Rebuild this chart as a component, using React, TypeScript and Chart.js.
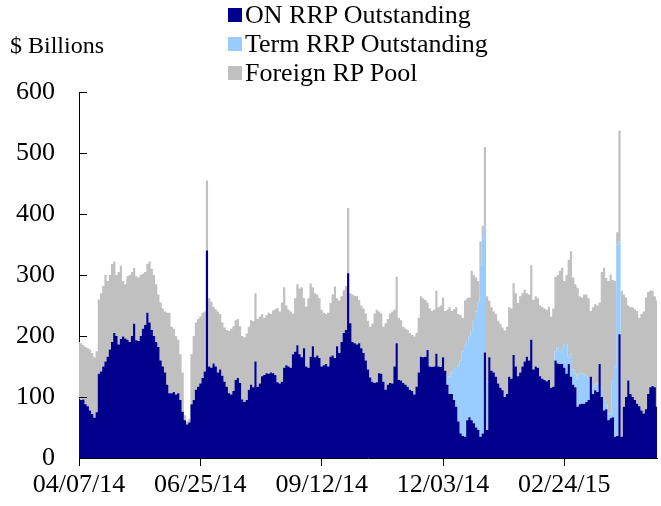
import { useEffect, useRef } from "react";
import { Chart, registerables } from "chart.js";

Chart.register(...registerables);

// ---------- data (business days, 04/07/14 onward) ----------
const SERIES_NAMES = ["ON RRP Outstanding", "Term RRP Outstanding", "Foreign RP Pool"];
const X_TICK_LABELS = ["04/07/14", "06/25/14", "09/12/14", "12/03/14", "02/24/15"];
const TICK_STEP = 55;
const Y_TICKS = [0, 100, 200, 300, 400, 500, 600];

const ON_RRP = [
  97, 95, 96, 88, 85, 78, 72, 66, 75, 138,
  142, 150, 158, 166, 178, 190, 205, 200, 186, 195,
  199, 196, 194, 190, 200, 220, 193, 192, 200, 212,
  218, 238, 222, 210, 200, 190, 182, 160, 150, 140,
  120, 106, 106, 108, 104, 106, 95, 76, 62, 55,
  58, 88, 95, 112, 117, 122, 131, 142, 340, 150,
  148, 155, 150, 140, 145, 135, 125, 117, 106, 104,
  110, 128, 131, 123, 96, 92, 95, 112, 120, 116,
  158, 117, 122, 134, 136, 139, 138, 140, 139, 136,
  124, 122, 125, 148, 152, 150, 148, 170, 174, 185,
  170, 165, 180, 150, 148, 166, 183, 165, 168, 164,
  150, 152, 154, 150, 166, 168, 164, 183, 172, 190,
  205, 210, 303, 221, 190, 188, 186, 188, 180, 172,
  160, 145, 132, 125, 123, 124, 139, 138, 125, 112,
  120, 123, 122, 150, 188, 128, 127, 123, 120, 117,
  112, 110, 104, 117, 140, 166, 165, 166, 177, 150,
  149, 150, 171, 150, 149, 165, 143, 120, 105, 105,
  95, 84, 60, 40, 36, 35, 62, 67, 62, 57,
  50, 46, 35, 40, 173, 46, 165, 143, 140, 133,
  122, 115, 111, 100, 105, 133, 130, 169, 150, 134,
  140, 150, 158, 166, 160, 194, 145, 150, 148, 134,
  130, 128, 126, 128, 115, 117, 160, 155, 154, 154,
  148, 138, 154, 133, 120, 116, 84, 88, 89, 89,
  92, 95, 133, 105, 111, 108, 154, 100, 78, 80,
  62, 65, 67, 35, 36, 203, 35, 84, 100, 127,
  105, 100, 95, 89, 85, 78, 73, 80, 105, 116,
  118, 116, 84,
];

const TERM_RRP = [
  0, 0, 0, 0, 0, 0, 0, 0, 0, 0,
  0, 0, 0, 0, 0, 0, 0, 0, 0, 0,
  0, 0, 0, 0, 0, 0, 0, 0, 0, 0,
  0, 0, 0, 0, 0, 0, 0, 0, 0, 0,
  0, 0, 0, 0, 0, 0, 0, 0, 0, 0,
  0, 0, 0, 0, 0, 0, 0, 0, 0, 0,
  0, 0, 0, 0, 0, 0, 0, 0, 0, 0,
  0, 0, 0, 0, 0, 0, 0, 0, 0, 0,
  0, 0, 0, 0, 0, 0, 0, 0, 0, 0,
  0, 0, 0, 0, 0, 0, 0, 0, 0, 0,
  0, 0, 0, 0, 0, 0, 0, 0, 0, 0,
  0, 0, 0, 0, 0, 0, 0, 0, 0, 0,
  0, 0, 0, 0, 0, 0, 0, 0, 0, 0,
  0, 0, 0, 0, 0, 0, 0, 0, 0, 0,
  0, 0, 0, 0, 0, 0, 0, 0, 0, 0,
  0, 0, 0, 0, 0, 0, 0, 0, 0, 0,
  0, 0, 0, 0, 0, 0, 0, 13, 28, 35,
  54, 65, 92, 120, 139, 150, 130, 133, 146, 168,
  190, 209, 282, 320, 205, 80, 0, 0, 0, 0,
  0, 0, 0, 0, 0, 0, 0, 0, 0, 0,
  0, 0, 0, 0, 0, 0, 0, 0, 0, 0,
  0, 0, 0, 0, 0, 0, 15, 27, 21, 26,
  39, 49, 11, 38, 25, 22, 45, 50, 50, 48,
  42, 35, 0, 11, 9, 14, 0, 16, 17, 8,
  11, 8, 60, 115, 314, 152, 0, 0, 0, 0,
  0, 0, 0, 0, 0, 0, 0, 0, 0, 0,
  0, 0, 0,
];

const FOREIGN_RP = [
  93, 93, 89, 94, 95, 100, 100, 99, 100, 122,
  128, 132, 142, 124, 122, 128, 117, 100, 119, 120,
  91, 89, 104, 110, 105, 92, 105, 104, 100, 90,
  87, 80, 100, 100, 100, 95, 86, 95, 95, 100,
  118, 132, 109, 104, 96, 88, 75, 64, 8, 5,
  6, 82, 105, 110, 111, 110, 107, 98, 115, 112,
  108, 93, 94, 100, 91, 87, 89, 93, 102, 108,
  106, 98, 97, 93, 104, 106, 109, 103, 106, 108,
  112, 111, 110, 102, 94, 95, 100, 96, 103, 108,
  122, 118, 130, 132, 98, 93, 92, 67, 88, 100,
  108, 115, 82, 98, 114, 120, 97, 105, 100, 98,
  93, 86, 82, 88, 88, 100, 117, 79, 86, 75,
  70, 72, 107, 49, 78, 78, 79, 71, 70, 73,
  77, 80, 83, 95, 114, 119, 101, 99, 90, 109,
  108, 114, 118, 93, 109, 102, 99, 92, 92, 93,
  93, 92, 95, 88, 90, 99, 97, 93, 78, 95,
  92, 93, 103, 97, 101, 98, 98, 110, 114, 101,
  95, 98, 84, 74, 55, 73, 70, 63, 99, 75,
  56, 35, 38, 20, 132, 139, 93, 104, 100, 103,
  103, 105, 103, 109, 110, 114, 115, 118, 120, 120,
  125, 120, 118, 104, 108, 122, 114, 115, 114, 116,
  118, 117, 117, 120, 117, 128, 122, 118, 132, 132,
  103, 113, 160, 168, 151, 147, 150, 127, 124, 131,
  134, 132, 108, 131, 132, 128, 101, 189, 217, 207,
  217, 228, 165, 140, 20, 182, 239, 184, 163, 123,
  142, 147, 149, 152, 145, 158, 167, 183, 167, 158,
  156, 149, 174,
];

// ---------- styles ----------
const COLORS = ["#00008C", "#99CCFF", "#C0C0C0"];
const FONT = "'Liberation Serif', 'Times New Roman', serif";

export default function App() {
  const ref = useRef<HTMLCanvasElement | null>(null);

  useEffect(() => {
    if (!ref.current) return;
    const labels = ON_RRP.map((_, i) =>
      i % TICK_STEP === 0 && X_TICK_LABELS[i / TICK_STEP] ? X_TICK_LABELS[i / TICK_STEP] : ""
    );
    const series = [ON_RRP, TERM_RRP, FOREIGN_RP];

    const innerTicks = {
      id: "innerTicks",
      afterDatasetsDraw(chart: any) {
        const y = chart.scales.y;
        const ctx = chart.ctx;
        const left = chart.chartArea.left;
        ctx.save();
        ctx.strokeStyle = "#000";
        ctx.lineWidth = 1;
        Y_TICKS.forEach((v) => {
          const py = Math.round(y.getPixelForValue(v)) + 0.5;
          ctx.beginPath();
          ctx.moveTo(left, py);
          ctx.lineTo(left + 8, py);
          ctx.stroke();
        });
        ctx.restore();
      },
    };

    const chart = new Chart(ref.current, {
      type: "line",
      data: {
        labels,
        datasets: series.map((d, k) => ({
          label: SERIES_NAMES[k],
          data: d,
          backgroundColor: COLORS[k],
          borderColor: COLORS[k],
          borderWidth: 0,
          pointRadius: 0,
          stepped: "middle" as const,
          fill: k === 0 ? "origin" : "-1",
        })),
      },
      options: {
        animation: false,
        responsive: true,
        maintainAspectRatio: false,
        layout: { padding: { top: 92, right: 4, left: 0, bottom: 0 } },
        plugins: { legend: { display: false }, tooltip: { enabled: false } },
        scales: {
          x: {
            type: "category",
            offset: false,
            grid: {
              display: true,
              drawOnChartArea: false,
              drawTicks: true,
              tickLength: 8,
              offset: false,
              color: (c: any) => (labels[c.index] ? "#000" : "rgba(0,0,0,0)"),
            },
            border: { display: true, color: "#000", width: 1 },
            ticks: {
              autoSkip: false,
              maxRotation: 0,
              minRotation: 0,
              padding: 4,
              color: "#000",
              font: { family: FONT, size: 26 },
              callback: (_v: any, i: number) => labels[i],
            },
            afterFit: (s: any) => {
              s.height = 48;
            },
          },
          y: {
            stacked: true,
            min: 0,
            max: 600,
            grid: { display: false },
            border: { display: true, color: "#000", width: 1 },
            ticks: {
              stepSize: 100,
              padding: 16,
              color: "#000",
              font: { family: FONT, size: 26 },
            },
            afterFit: (s: any) => {
              s.width = 79;
            },
          },
        },
      },
      plugins: [innerTicks],
    });
    return () => chart.destroy();
  }, []);

  return (
    <div
      style={{
        position: "fixed",
        left: 0,
        top: 0,
        width: 661,
        height: 506,
        background: "#fff",
        fontFamily: FONT,
        color: "#000",
      }}
    >
      <canvas ref={ref} />
      <div
        style={{
          position: "absolute",
          left: 10,
          top: 31,
          fontSize: 24,
          lineHeight: "29px",
          whiteSpace: "nowrap",
        }}
      >
        $ Billions
      </div>
      {SERIES_NAMES.map((name, k) => (
        <div
          key={name}
          style={{
            position: "absolute",
            left: 228,
            top: 0 + k * 29,
            height: 29,
            display: "flex",
            alignItems: "center",
            fontSize: 26,
            lineHeight: "29px",
            whiteSpace: "nowrap",
          }}
        >
          <span
            style={{
              display: "inline-block",
              width: 14,
              height: 14,
              background: COLORS[k],
              marginRight: 3,
            }}
          />
          <span>{name}</span>
        </div>
      ))}
    </div>
  );
}
